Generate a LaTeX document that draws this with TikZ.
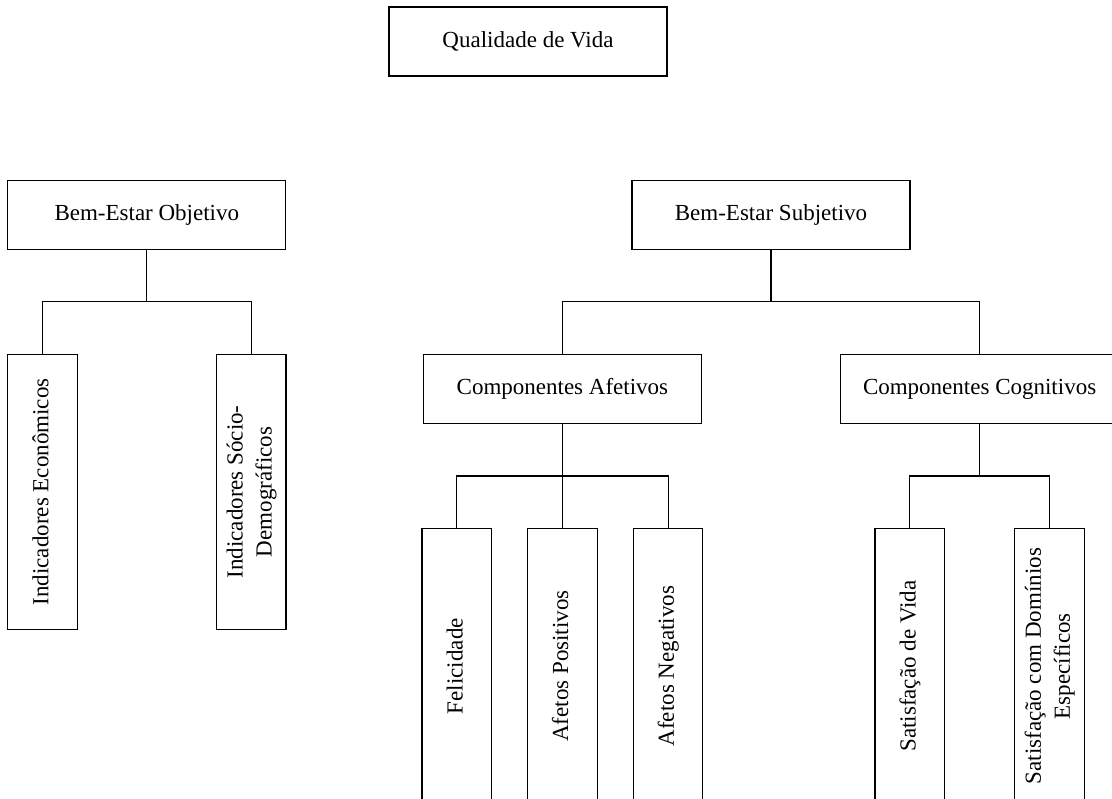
\documentclass[tikz,border=0pt]{standalone}
\usepackage{fontspec}
\setmainfont{Liberation Serif}
\usetikzlibrary{positioning}
\newcommand{\vtext}[1]{\rotatebox{90}{\begin{tabular}{@{}c@{}}#1\end{tabular}}}

\begin{document}
\begin{tikzpicture}[
    node distance=52pt and 17.5pt,
    level/.style={rectangle, draw=black, fill=white, line width=0.6pt, minimum width=139pt, minimum height=34.5pt, inner sep=0pt, align=center, font=\fontsize{11.5}{14.5}\selectfont},
    leaf/.style={rectangle, draw=black, fill=white, line width=0.6pt, minimum width=34.75pt, minimum height=137.5pt, inner sep=0pt, font=\fontsize{11.5}{14.5}\selectfont},
    link/.style={draw=black, line width=0.6pt}
]
    \useasboundingbox (0,0) rectangle (556pt,-399pt);
    \clip (0,0) rectangle (556pt,-399pt);

    \node (qv) [level] at (264pt,-20.75pt) {Qualidade de Vida};
    \node (beo) [level, below left=51.5pt and 51pt of qv] {Bem-Estar Objetivo};
    \node (bes) [level, right=172.5pt of beo] {Bem-Estar Subjetivo};

    \node (ie) [leaf, below right=52pt and 0pt of beo.south west] {\vtext{Indicadores Econômicos}};
    \node (isd) [leaf, right=69pt of ie] {\vtext{Indicadores Sócio-\\Demográficos}};

    \node (ca) [level, below left=52pt and 34.5pt of bes.south] {Componentes Afetivos};
    \node (cc) [level, below right=52pt and 34.5pt of bes.south] {Componentes Cognitivos};

    \node (ap) [leaf, below=of ca] {\vtext{Afetos Positivos}};
    \node (fel) [leaf, left=of ap] {\vtext{Felicidade}};
    \node (an) [leaf, right=of ap] {\vtext{Afetos Negativos}};

    \node (sv) [leaf, below left=52pt and 17.25pt of cc.south] {\vtext{Satisfação de Vida}};
    \node (sd) [leaf, right=34.5pt of sv] {\vtext{Satisfação com Domínios\\Específicos}};

    \draw [link] (beo.south) -- ++(0,-26pt) coordinate (beobus);
    \draw [link] (beobus) -| (ie.north);
    \draw [link] (beobus) -| (isd.north);

    \draw [link] (bes.south) -- ++(0,-26pt) coordinate (besbus);
    \draw [link] (besbus) -| (ca.north);
    \draw [link] (besbus) -| (cc.north);

    \draw [link] (ca.south) -- (ap.north);
    \draw [link] (ca.south) -- ++(0,-26pt) coordinate (cabus);
    \draw [link] (cabus) -| (fel.north);
    \draw [link] (cabus) -| (an.north);

    \draw [link] (cc.south) -- ++(0,-26pt) coordinate (ccbus);
    \draw [link] (ccbus) -| (sv.north);
    \draw [link] (ccbus) -| (sd.north);
\end{tikzpicture}
\end{document}
